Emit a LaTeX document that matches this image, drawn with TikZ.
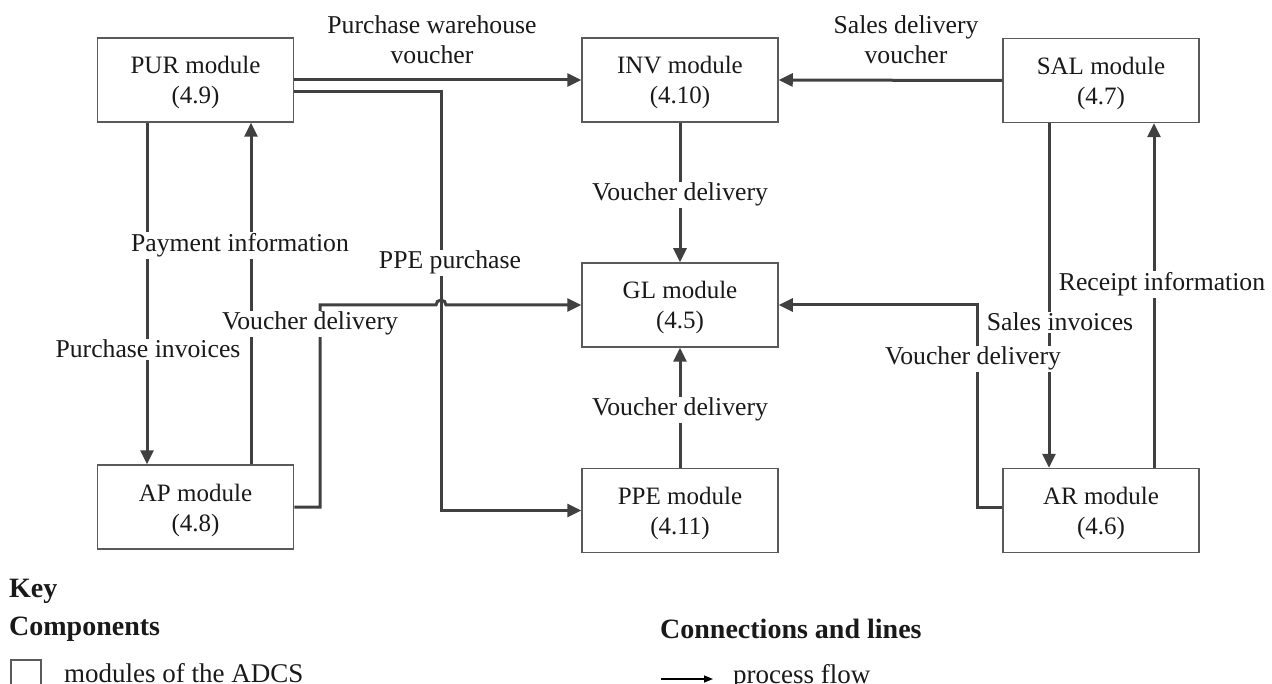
\documentclass[tikz,border=0pt]{standalone}
\usepackage{fontspec}
\setmainfont{Liberation Serif}
\usetikzlibrary{arrows.meta}
\definecolor{linec}{RGB}{64,64,64}
\definecolor{boxc}{RGB}{90,90,90}
\definecolor{textc}{RGB}{25,25,25}
\begin{document}
\begin{tikzpicture}[x=1pt,y=-1pt,
  module/.style={draw=boxc, line width=1.5pt, minimum width=196pt, minimum height=84pt,
    align=center, font=\fontsize{25}{30}\selectfont, text=textc, inner sep=0pt,
    text height=52pt, text depth=4pt},
  flow/.style={draw=linec, line width=3pt, -{Triangle[length=14pt,width=13pt]}},
  lbl/.style={fill=white, inner sep=1.5pt, text=textc, font=\fontsize{25.7}{30}\selectfont,
    anchor=base, align=center},
  legbold/.style={anchor=base west, inner sep=0pt, text=textc, font=\fontsize{28}{30}\selectfont\bfseries},
  legtext/.style={anchor=base west, inner sep=0pt, text=textc, font=\fontsize{27}{30}\selectfont},
]
\useasboundingbox (0,0) rectangle (1272,684);
\clip (0,0) rectangle (1272,684);

% modules
\node[module] (PUR) at (195.5,80) {PUR module\\(4.9)};
\node[module] (INV) at (680,80) {INV module\\(4.10)};
\node[module] (SAL) at (1101,80.5) {SAL module\\(4.7)};
\node[module] (GL) at (680,305) {GL module\\(4.5)};
\node[module] (AP) at (195.5,507) {AP module\\(4.8)};
\node[module] (PPE) at (680,510.5) {PPE module\\(4.11)};
\node[module] (AR) at (1101,510.5) {AR module\\(4.6)};

% connectors
\draw[flow] (PUR.east) -- (INV.west);
\draw[flow] ([yshift=-12pt]PUR.east) -- ++(147,0) |- (PPE.west);
\draw[flow] (SAL.west) -- (INV.east);
\draw[flow] (INV.south) -- (GL.north);
\draw[flow] (PPE.north) -- (GL.south);
\draw[flow] ([xshift=-48.5pt]PUR.south) -- ([xshift=-48.5pt]AP.north);
\draw[flow] ([xshift=55.5pt]AP.north) -- ([xshift=55.5pt]PUR.south);
\draw[flow] ([xshift=-52pt]SAL.south) -- ([xshift=-52pt]AR.north);
\draw[flow] ([xshift=53pt]AR.north) -- ([xshift=53pt]SAL.south);
\draw[flow] (AP.east) -- (320,507) -- (320,305) -- (436,305)
  arc[start angle=180, end angle=360, radius=5] -- (GL.west);
\draw[flow] ([yshift=3.5pt]AR.west) -- (977,507) -- (977,305) -- (GL.east);

% connector labels
\node[lbl] (l1) at (432,64) {Purchase warehouse\\voucher};
\node[lbl] (l2) at (906,64) {Sales delivery\\voucher};
\node[lbl] (l3) at (240,252) {Payment information};
\node[lbl] (l4) at (450,269) {PPE purchase};
\node[lbl] (l5) at (310,330) {Voucher delivery};
\node[lbl] (l6) at (148,358) {Purchase invoices};
\node[lbl] (l7) at (680,201) {Voucher delivery};
\node[lbl] (l8) at (680,416) {Voucher delivery};
\node[lbl] (l9) at (1162,291) {Receipt information};
\node[lbl] (l10) at (1060,331) {Sales invoices};
\node[lbl] (l11) at (973,365) {Voucher delivery};

% key
\node[legbold] (key) at (9,597) {Key};
\node[legbold] (comp) at (9,635) {Components};
\node[draw=boxc, line width=1.5pt, minimum width=30pt, minimum height=36pt, inner sep=0pt,
  anchor=north west] (legbox) at (10,659) {};
\node[legtext] (legmod) at (64,682) {modules of the ADCS};
\node[legbold] (conn) at (660,638) {Connections and lines};
\coordinate (a1) at (661,679);
\coordinate (a2) at (713,679);
\draw[line width=1.5pt, -{Triangle[length=9pt,width=7pt]}] (a1) -- (a2);
\node[legtext] (legflow) at (733,683) {process flow};
\end{tikzpicture}
\end{document}
